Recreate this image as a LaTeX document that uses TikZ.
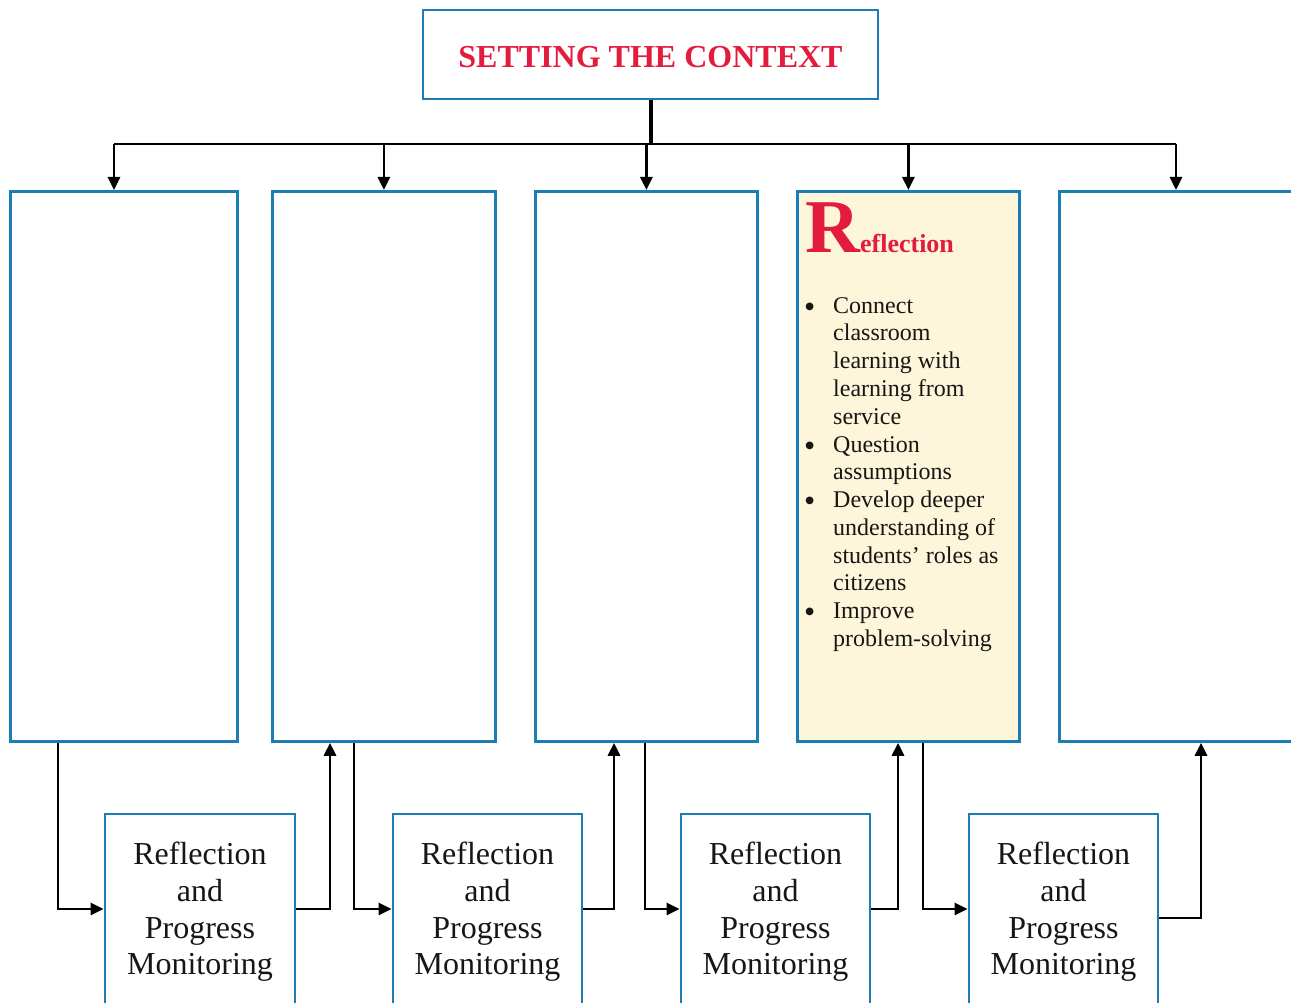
\documentclass[tikz,border=0pt]{standalone}
\usepackage{fontspec}
\setmainfont{Liberation Serif}
\usetikzlibrary{arrows.meta,calc}
\definecolor{frameblue}{HTML}{1B7DB4}
\definecolor{titlered}{HTML}{E31C3D}
\definecolor{cream}{HTML}{FEF6DA}
\definecolor{ink}{HTML}{161616}
\newcommand{\bigdot}{\raisebox{-4pt}{\fontsize{32}{0}\selectfont\textbullet}}

\begin{document}
\begin{tikzpicture}[x=1pt,y=-1pt,
  frame/.style={draw=frameblue,line width=2.8pt,rectangle,inner sep=0pt,text=ink},
  panel/.style={frame,anchor=north west,minimum height=550pt},
  rpm/.style={frame,minimum height=196pt,align=center,
              font=\fontsize{32}{36.7}\selectfont},
  link/.style={line width=2.8pt,black},
  tip/.style={link,-{Triangle[length=13pt,width=12pt]}},
]
\useasboundingbox (0,0) rectangle (1291,1003);
\clip (0,0) rectangle (1291,1003);

% title box
\node[frame,minimum width=455pt,minimum height=89pt,text height=27pt,text depth=0pt,
      font=\bfseries\fontsize{32}{32}\selectfont,text=titlered]
  (ctx) at (650.5,54.5) {SETTING THE CONTEXT};

% five stage panels
\node[panel,minimum width=227pt] (p1) at (9,190) {};
\node[panel,minimum width=223pt] (p2) at (271,190) {};
\node[panel,minimum width=222pt] (p3) at (534,190) {};
\node[panel,minimum width=222pt,fill=cream] (p4) at (796,190) {};
\node[panel,minimum width=250pt] (p5) at (1058,190) {};

% reflection panel content
\node[anchor=base west,inner sep=0pt,text=titlered,font=\bfseries]
  (rh) at ([xshift=9pt,yshift=-63pt]p4.north west)
  {{\fontsize{76}{76}\selectfont R}{\fontsize{26}{26}\selectfont eflection}};
\node[anchor=base west,inner sep=0pt,text=ink,font=\fontsize{24}{27.8}\selectfont]
  (rl) at ([xshift=8pt,yshift=-123pt]p4.north west)
  {\begin{tabular}[t]{@{}p{29pt}@{}l@{}}
   \bigdot & Connect\\
           & classroom\\
           & learning with\\
           & learning from\\
           & service\\
   \bigdot & Question\\
           & assumptions\\
   \bigdot & Develop deeper\\
           & understanding of\\
           & students’ roles as\\
           & citizens\\
   \bigdot & Improve\\
           & problem-solving
   \end{tabular}};

% monitoring boxes
\node[rpm,minimum width=190pt] (b1) at (200,912) {Reflection\\and\\Progress\\Monitoring};
\node[rpm,minimum width=189pt] (b2) at (487.5,912) {Reflection\\and\\Progress\\Monitoring};
\node[rpm,minimum width=189pt] (b3) at (775.5,912) {Reflection\\and\\Progress\\Monitoring};
\node[rpm,minimum width=189pt] (b4) at (1063.5,912) {Reflection\\and\\Progress\\Monitoring};

% distribution bus from the title
\coordinate (bus) at (651,144);
\coordinate (d1) at ([xshift=105pt]p1.north west);
\coordinate (d2) at (p2.north);
\coordinate (d3) at (p3.north);
\coordinate (d4) at (p4.north);
\coordinate (d5) at ([xshift=118pt]p5.north west);
\draw[line width=4pt] (ctx.south) -- (ctx.south |- bus);
\draw[link] (d1 |- bus) -- (d5 |- bus);
\foreach \d in {d1,d2,d3,d4,d5} \draw[tip] (\d |- bus) -- (\d);

% loops through the monitoring boxes
\draw[tip] ([xshift=49pt]p1.south west) |- ([yshift=3pt]b1.west);
\draw[tip] ([yshift=3pt]b1.east) -| ([xshift=59pt]p2.south west);
\draw[tip] ([xshift=83pt]p2.south west) |- ([yshift=3pt]b2.west);
\draw[tip] ([yshift=3pt]b2.east) -| ([xshift=80pt]p3.south west);
\draw[tip] ([xshift=111pt]p3.south west) |- ([yshift=3pt]b3.west);
\draw[tip] ([yshift=3pt]b3.east) -| ([xshift=102pt]p4.south west);
\draw[tip] ([xshift=127pt]p4.south west) |- ([yshift=3pt]b4.west);
\draw[tip] ([yshift=-6pt]b4.east) -| ([xshift=143pt]p5.south west);
\end{tikzpicture}
\end{document}
